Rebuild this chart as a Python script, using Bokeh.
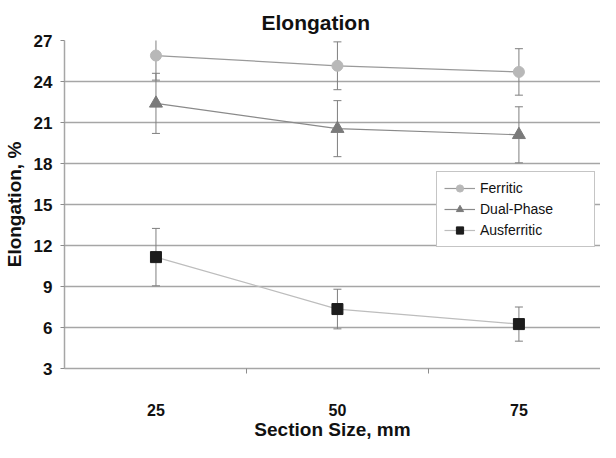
from bokeh.plotting import figure
from bokeh.models import (ColumnDataSource, Whisker, TeeHead, Legend, LegendItem,
                          FixedTicker, Range1d)
from bokeh.embed import file_html
from bokeh.resources import INLINE

# ---- data ----
sections = [25, 50, 75]
x_tick_labels = ["25", "50", "75"]
ferritic = [25.9, 25.15, 24.7]
ferritic_err = [1.8, 1.75, 1.7]
dual_phase = [22.4, 20.55, 20.1]
dual_phase_err = [2.2, 2.05, 2.05]
ausferritic = [11.15, 7.35, 6.25]
ausferritic_err = [2.1, 1.45, 1.25]
y_ticks = [3, 6, 9, 12, 15, 18, 21, 24, 27]

SANS = "Liberation Sans"

p = figure(width=600, height=442, output_backend="svg", toolbar_location=None,
           x_range=Range1d(12.4, 86.24), y_range=Range1d(3, 27),
           min_border_left=61, min_border_right=0, min_border_top=40,
           min_border_bottom=72)
p.outline_line_color = None
p.background_fill_color = "white"
p.border_fill_color = "white"

# title
p.title.text = "Elongation"
p.title.align = "left"
p.title.offset = 197
p.title.text_font = SANS
p.title.text_font_size = "21px"
p.title.text_font_style = "bold"
p.title.text_color = "#111111"
p.title.standoff = 14

# x axis
xa = p.xaxis[0]
xa.ticker = FixedTicker(ticks=sections, minor_ticks=[37.5, 62.5])
xa.major_label_overrides = {s: l for s, l in zip(sections, x_tick_labels)}
xa.major_tick_out = 0
xa.major_tick_in = 0
xa.minor_tick_out = 5
xa.minor_tick_in = 0
xa.minor_tick_line_color = "#8c8c8c"
xa.axis_line_color = "#a6a6a6"
xa.axis_line_width = 1.5
xa.major_label_standoff = 30
xa.major_label_text_font = SANS
xa.major_label_text_font_size = "16px"
xa.major_label_text_font_style = "bold"
xa.major_label_text_color = "#111111"
xa.axis_label = "Section Size, mm"
xa.axis_label_text_font = SANS
xa.axis_label_text_font_size = "19px"
xa.axis_label_text_font_style = "bold"
xa.axis_label_text_color = "#111111"
xa.axis_label_standoff = 0

# y axis
ya = p.yaxis[0]
ya.ticker = FixedTicker(ticks=y_ticks)
ya.minor_tick_line_color = None
ya.major_tick_out = 4
ya.major_tick_in = 0
ya.major_tick_line_color = "#8c8c8c"
ya.axis_line_color = "#a6a6a6"
ya.axis_line_width = 1.5
ya.major_label_standoff = 8
ya.major_label_text_font = SANS
ya.major_label_text_font_size = "17px"
ya.major_label_text_font_style = "bold"
ya.major_label_text_color = "#111111"
ya.axis_label = "Elongation, %"
ya.axis_label_text_font = SANS
ya.axis_label_text_font_size = "19px"
ya.axis_label_text_font_style = "bold"
ya.axis_label_text_color = "#111111"
ya.axis_label_standoff = 6

p.xgrid.visible = False
p.ygrid.ticker = FixedTicker(ticks=y_ticks)
p.ygrid.grid_line_color = "#a6a6a6"
p.ygrid.grid_line_width = 1.5

series = [
    ("Ferritic", ferritic, ferritic_err, "circle", 11, "#b8b8b8", "#9a9a9a"),
    ("Dual-Phase", dual_phase, dual_phase_err, "triangle", 13, "#7a7a7a", "#8a8a8a"),
    ("Ausferritic", ausferritic, ausferritic_err, "square", 11, "#1c1c1c", "#bdbdbd"),
]

items = []
for name, vals, errs, marker, size, color, lcolor in series:
    src = ColumnDataSource(dict(
        x=sections, y=vals,
        lower=[v - e for v, e in zip(vals, errs)],
        upper=[v + e for v, e in zip(vals, errs)],
    ))
    w = Whisker(source=src, base="x", lower="lower", upper="upper",
                line_color="#7f7f7f", line_width=1,
                upper_head=TeeHead(size=8, line_color="#7f7f7f", line_width=1),
                lower_head=TeeHead(size=8, line_color="#7f7f7f", line_width=1))
    p.add_layout(w)
    lr = p.line("x", "y", source=src, line_color=lcolor, line_width=1.2)
    sr = p.scatter("x", "y", source=src, marker=marker, size=size,
                   fill_color=color, line_color=color)
    items.append(LegendItem(label=name, renderers=[lr, sr]))

legend = Legend(items=items, location=(372, 121))
legend.margin = 0
legend.padding = 7
legend.spacing = 3
legend.glyph_width = 31
legend.glyph_height = 18
legend.label_height = 18
legend.label_width = 107
legend.label_standoff = 5
legend.label_text_font = SANS
legend.label_text_font_size = "14px"
legend.label_text_color = "#111111"
legend.border_line_color = "#8c8c8c"
legend.border_line_width = 1
legend.background_fill_color = "white"
legend.background_fill_alpha = 1
p.add_layout(legend)

open("out.html", "w").write(file_html(p, INLINE))
